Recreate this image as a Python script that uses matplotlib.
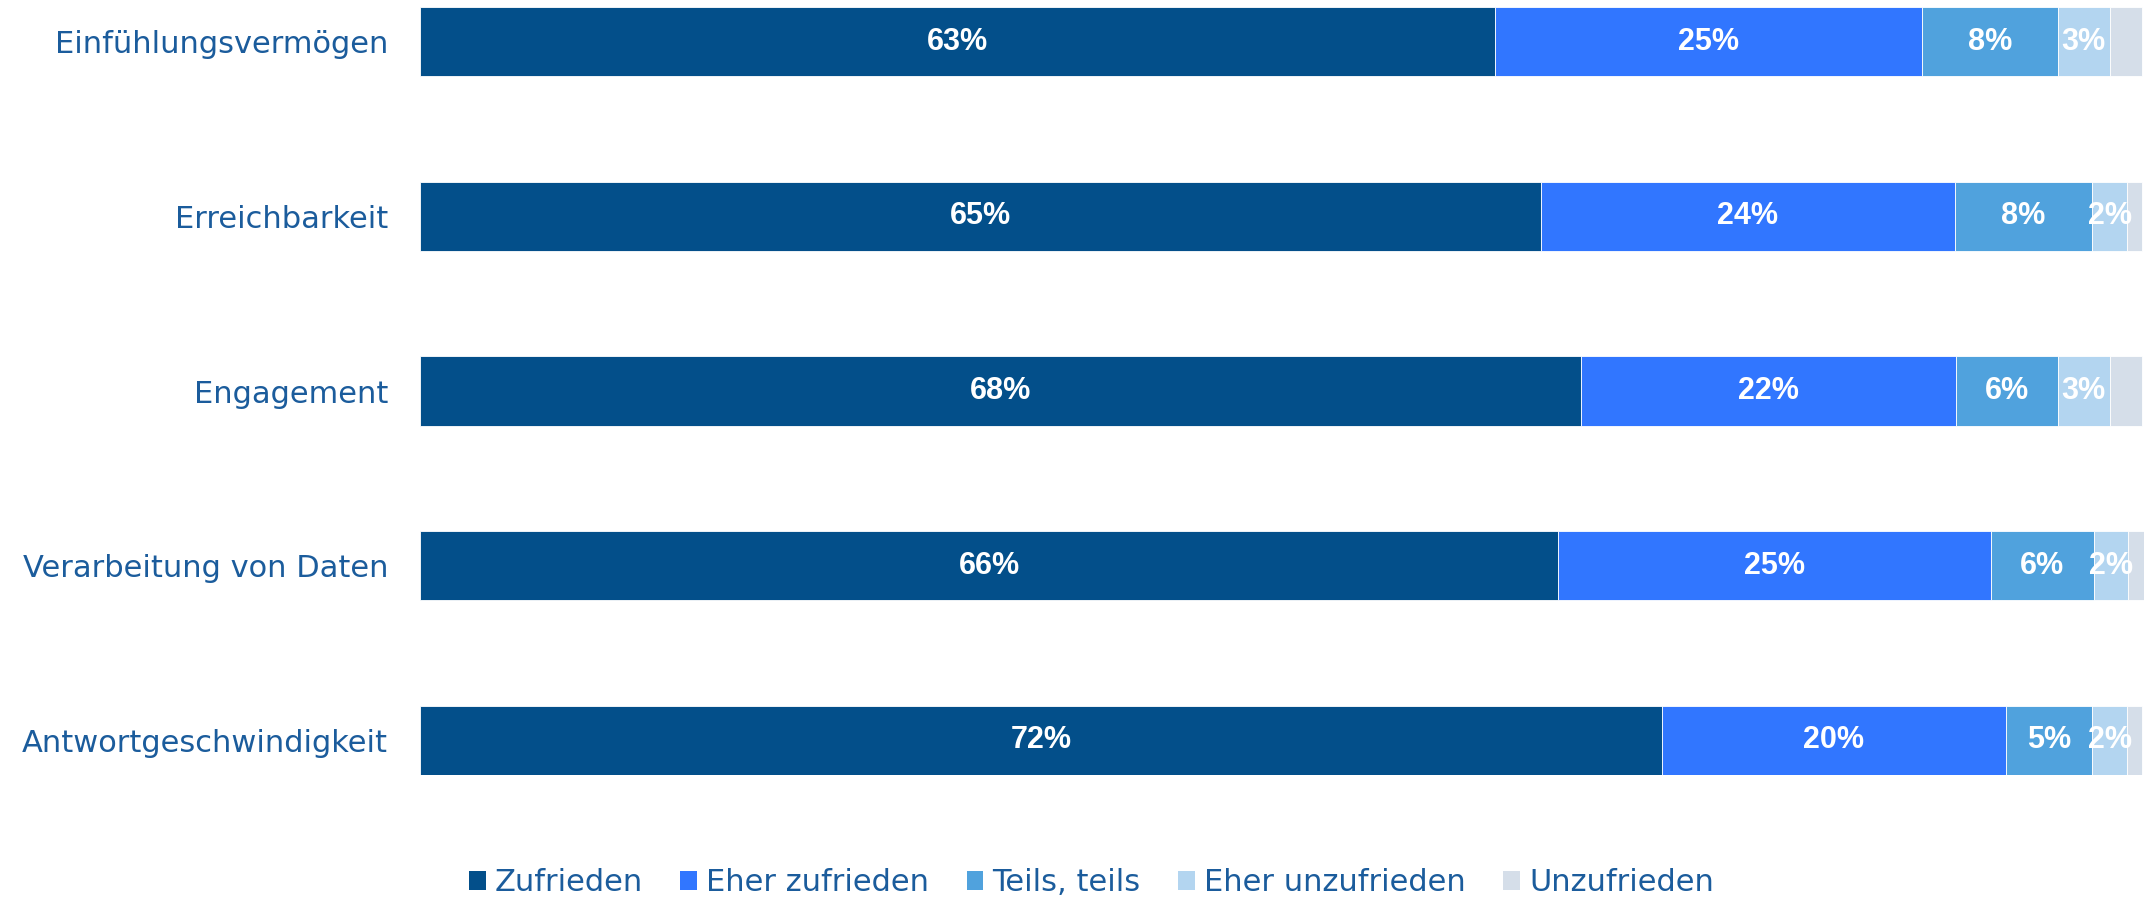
import numpy as np
import matplotlib.pyplot as plt
from matplotlib.patches import Patch

categories = ["Einfühlungsvermögen", "Erreichbarkeit", "Engagement",
              "Verarbeitung von Daten", "Antwortgeschwindigkeit"]
series_names = ["Zufrieden", "Eher zufrieden", "Teils, teils",
                "Eher unzufrieden", "Unzufrieden"]

# Anteile in %
zufrieden = [62.4, 65.1, 67.4, 66.1, 72.1]
eher_zufrieden = [24.8, 24.0, 21.8, 25.1, 20.0]
teils_teils = [7.9, 8.0, 5.9, 6.0, 5.0]
eher_unzufrieden = [3.0, 2.0, 3.0, 2.0, 2.0]
unzufrieden = [1.9, 0.9, 1.9, 0.9, 0.9]

# angezeigte Beschriftungen
zufrieden_lbl = [63, 65, 68, 66, 72]
eher_zufrieden_lbl = [25, 24, 22, 25, 20]
teils_teils_lbl = [8, 8, 6, 6, 5]
eher_unzufrieden_lbl = [3, 2, 3, 2, 2]

colors = ["#034F8A", "#3176FF", "#50A2DD", "#B3D5F0", "#D5DEE9"]
text_color = "#1B5C9C"

series = [zufrieden, eher_zufrieden, teils_teils, eher_unzufrieden, unzufrieden]
labels = [zufrieden_lbl, eher_zufrieden_lbl, teils_teils_lbl, eher_unzufrieden_lbl, None]

fig = plt.figure(figsize=(21.44, 8.99), dpi=100)
ax = fig.add_axes([420 / 2144, 124 / 899, 1 - 420 / 2144, 768 / 899])

y = np.arange(len(categories))
bar_h = 0.395
left = np.zeros(len(categories))
for vals, lbls, col in zip(series, labels, colors):
    vals = np.array(vals)
    ax.barh(y, vals, left=left, height=bar_h, color=col,
            edgecolor="white", linewidth=0.6)
    if lbls is not None:
        for yi, l, v, t in zip(y, left, vals, lbls):
            ax.text(l + v / 2, yi, f"{t}%", ha="center", va="center",
                    color="white", fontsize=22, fontweight="bold",
                    family="Liberation Sans")
    left += vals

ax.set_xlim(0, left.max())
ax.set_ylim(len(categories) - 1 + bar_h / 2, -bar_h / 2)
ax.set_yticks(y)
ax.set_yticklabels(categories, fontsize=22, color=text_color)
ax.tick_params(axis="y", length=0, pad=23)
ax.set_xticks([])
for s in ax.spines.values():
    s.set_visible(False)

handles = [Patch(facecolor=c, edgecolor="none") for c in colors]
fig.legend(handles, series_names, loc="center", bbox_to_anchor=(0.509, 0.018),
           ncol=5, frameon=False, fontsize=22, labelcolor=text_color,
           handlelength=0.55, handleheight=0.55, handletextpad=0.3,
           columnspacing=1.22)

plt.savefig("out.png", dpi=100)
plt.close()
